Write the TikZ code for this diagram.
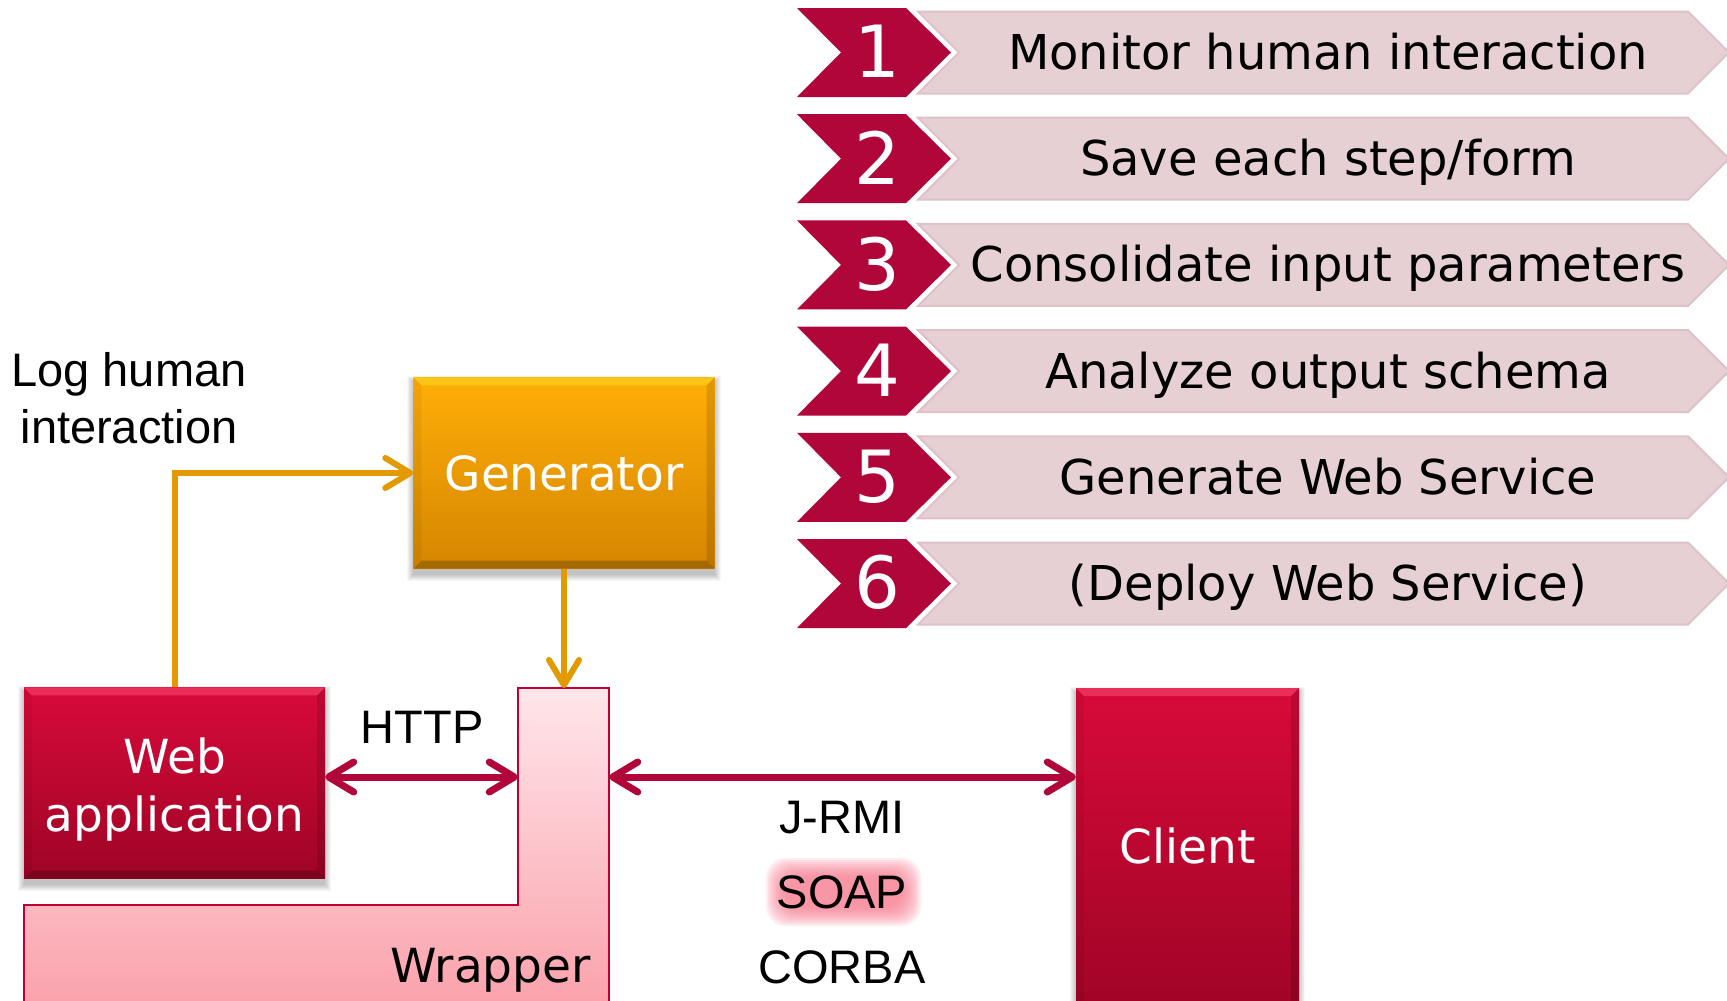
\documentclass[tikz,border=0pt]{standalone}
\usepackage{fontspec}
\setmainfont{DejaVu Sans}
\newfontfamily\arialfam{Liberation Sans}
\usetikzlibrary{arrows.meta,calc}
\definecolor{crim}{RGB}{176,6,58}
\definecolor{crimtop}{RGB}{216,10,58}
\definecolor{crimbot}{RGB}{158,4,38}
\definecolor{orgtop}{RGB}{255,174,8}
\definecolor{orgbot}{RGB}{212,134,0}
\definecolor{orgline}{RGB}{226,154,0}
\definecolor{chevfill}{RGB}{230,208,212}
\definecolor{chevedge}{RGB}{221,194,200}
\definecolor{wraptop}{RGB}{255,230,234}
\definecolor{wrapbot}{RGB}{250,160,170}
\definecolor{wrapedge}{RGB}{192,0,52}
\definecolor{glowc}{RGB}{248,120,140}
\definecolor{bevred}{RGB}{255,90,130}
\definecolor{bevorg}{RGB}{255,225,40}
\newcommand\chevfont{\fontsize{48}{58}\selectfont}
\newcommand\numfont{\fontsize{72}{80}\selectfont}
\newcommand\boxfont{\fontsize{47}{58}\selectfont}
\newcommand\arfont{\arialfam\fontsize{47}{58}\selectfont}
\newcommand\boxbevel[2]{%
  \fill[#2, opacity=0.45] (#1.north west) -- (#1.north east) -- ($(#1.north east)+(-8,8)$) -- ($(#1.north west)+(8,8)$) -- cycle;
  \fill[black, opacity=0.22] (#1.south west) -- (#1.south east) -- ($(#1.south east)+(-8,-8)$) -- ($(#1.south west)+(8,-8)$) -- cycle;
  \fill[black, opacity=0.12] (#1.north east) -- (#1.south east) -- ($(#1.south east)+(-8,-8)$) -- ($(#1.north east)+(-8,8)$) -- cycle;
  \fill[black, opacity=0.05] (#1.north west) -- (#1.south west) -- ($(#1.south west)+(8,-8)$) -- ($(#1.north west)+(8,8)$) -- cycle;
}
\newcommand\boxshadow[1]{%
  \foreach \k in {1,...,7}{
    \fill[black, opacity=0.035] ($(#1.south west)+(-\k+1,5+\k)$) rectangle ($(#1.north east)+(\k-1,6-\k)$);
  }
}
\pgfdeclarelayer{bg}
\pgfsetlayers{bg,main}
\begin{document}
\begin{tikzpicture}[x=1pt,y=-1pt,
  redbox/.style={inner sep=0pt, minimum width=301pt, minimum height=191pt,
    top color=crimtop, bottom color=crimbot},
  orgbox/.style={inner sep=0pt, minimum width=301pt, minimum height=191pt,
    top color=orgtop, bottom color=orgbot, text=white, font=\boxfont},
  wtxt/.style={text=white, font=\boxfont, inner sep=0pt},
  btxt/.style={text=black, font=\arfont, inner sep=0pt},
  numtxt/.style={text=white, font=\numfont, inner sep=0pt},
  chevtxt/.style={text=black, font=\chevfont, inner sep=0pt},
  orgarrow/.style={draw=orgline, line width=6pt, -{Straight Barb[length=25pt,width=30pt,round]}},
  crimarrow/.style={draw=crim, line width=7pt,
    {Straight Barb[length=25pt,width=30pt,round]}-{Straight Barb[length=25pt,width=30pt,round]}}
]
\useasboundingbox (0,0) rectangle (1727,1001);
\begin{pgfonlayer}{bg}
\fill[white] (0,0) rectangle (1727,1001);
\end{pgfonlayer}
\clip (0,0) rectangle (1727,1001);

% steps
\foreach \num/\txt [count=\i from 0] in {1/Monitor human interaction,2/{Save each step/form},3/Consolidate input parameters,4/Analyze output schema,5/Generate Web Service,6/(Deploy Web Service)}{
  \pgfmathsetmacro\c{52.5+106.2*\i}
  \path[fill=chevfill, draw=chevedge, line width=2pt]
    (918,\c-41) -- (1688,\c-41) -- (1729,\c) -- (1688,\c+41) -- (918,\c+41) -- (959,\c) -- cycle;
  \fill[crim] (797,\c-44.5) -- (906,\c-44.5) -- (951,\c) -- (906,\c+44.5) -- (797,\c+44.5) -- (841,\c) -- cycle;
  \node[numtxt] (n\num) at (877,\c-1) {\num};
  \node[chevtxt, anchor=base] (t\num) at (1328,\c+17) {\txt};
}

% wrapper
\path[draw=wrapedge, line width=2pt, top color=wraptop, bottom color=wrapbot]
  (518,688) -- (609,688) -- (609,1012) -- (24,1012) -- (24,905) -- (518,905) -- cycle;
\node[inner sep=0pt, minimum width=91pt, minimum height=313pt, anchor=north] (wrap) at (563.5,688) {};
\node[text=black, font=\boxfont, inner sep=0pt, anchor=base east] (wraptxt) at (591,982) {Wrapper};

% boxes
\node[orgbox] (gen) at (564,473) {Generator};
\node[redbox] (web) at (174.5,783) {};
\node[redbox, minimum width=223pt, minimum height=330pt, anchor=north] (client) at (1187.5,688) {};
\begin{pgfonlayer}{bg}
\boxshadow{gen}
\boxshadow{web}
\boxshadow{client}
\end{pgfonlayer}
\boxbevel{gen}{bevorg}
\boxbevel{web}{bevred}
\boxbevel{client}{bevred}
\node[wtxt, anchor=base] (web1) at (175,773) {Web};
\node[wtxt, anchor=base] (web2) at (174.5,831) {application};
\node[wtxt, anchor=base] (clienttxt) at (1188,863) {Client};

% labels
\node[btxt, anchor=base] (log1) at (129,386) {Log human};
\node[btxt, anchor=base] (log2) at (129,443) {interaction};
\node[btxt, anchor=base] (http) at (422,743) {HTTP};
\node[btxt, anchor=base] (jrmi) at (842,833) {J-RMI};
\foreach \m in {-4,-2,...,14}{
  \fill[glowc, opacity=0.13, rounded corners=20pt] (770+\m,862+\m) rectangle (917-\m,922-\m);
}
\node[btxt, anchor=base] (soap) at (842,908) {SOAP};
\node[btxt, anchor=base] (corba) at (842,983) {CORBA};

% connectors
\draw[orgarrow] (web.north) |- (gen.west);
\draw[orgarrow] (gen.south) -- (gen.south |- wrap.north);
\coordinate (hline) at ([yshift=6pt]web.east);
\draw[crimarrow] (hline) -- (hline -| wrap.west);
\draw[crimarrow] (hline -| wrap.east) -- (hline -| client.west);
\end{tikzpicture}
\end{document}
